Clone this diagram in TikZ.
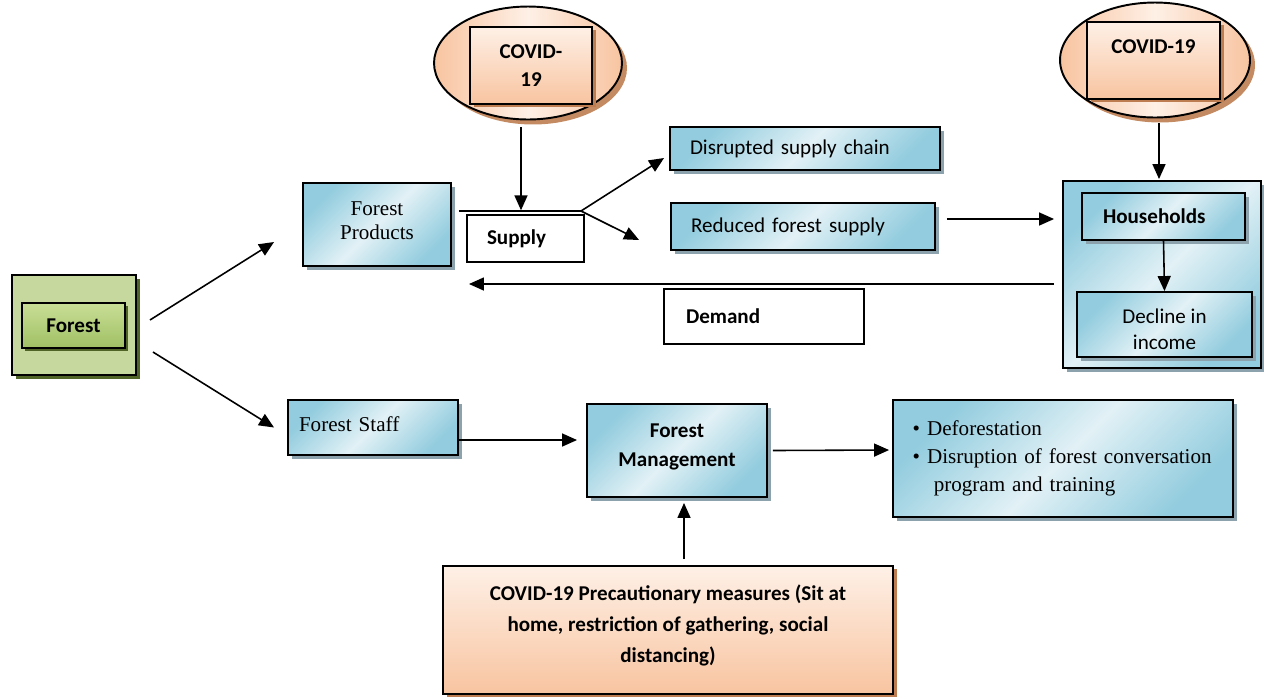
\documentclass[tikz,border=0pt]{standalone}
\usepackage{fontspec}
\setmainfont{Liberation Serif}
\setsansfont{Carlito}
\usetikzlibrary{positioning,calc,shapes.geometric,shadows,arrows.meta}
\definecolor{bluedark}{RGB}{146,204,222}
\definecolor{bluelite}{RGB}{226,241,246}
\definecolor{peachdark}{RGB}{248,196,160}
\definecolor{peachlite}{RGB}{254,240,230}
\definecolor{peachshade}{RGB}{190,125,80}
\definecolor{greenback}{RGB}{198,216,158}
\definecolor{greenlite}{RGB}{200,222,150}
\definecolor{greendark}{RGB}{160,192,100}
\definecolor{greenshade}{RGB}{80,100,40}
\definecolor{blueshade}{RGB}{140,162,172}

\begin{document}
\begin{tikzpicture}[x=0.02cm,y=-0.02cm,
	bluebox/.style={draw,line width=1.1pt,left color=bluedark,right color=bluedark,middle color=bluelite,shading angle=45,drop shadow={shadow xshift=0.08cm,shadow yshift=-0.08cm,fill=blueshade,opacity=1}},
	peachbox/.style={draw,line width=1.1pt,top color=peachlite,bottom color=peachdark,drop shadow={shadow xshift=0.08cm,shadow yshift=-0.06cm,fill=peachshade,opacity=1}},
	peachoval/.style={ellipse,draw,line width=1.1pt,left color=peachdark,right color=peachdark,middle color=peachlite,drop shadow={shadow xshift=0.1cm,shadow yshift=-0.1cm,fill=peachshade,opacity=0.9}},
	plainbox/.style={draw,line width=0.8pt,fill=white},
	sans/.style={font=\sffamily\fontsize{12}{14.7}\selectfont},
	bsans/.style={font=\sffamily\bfseries\fontsize{12}{16.4}\selectfont},
	serif/.style={font=\fontsize{12}{13.6}\selectfont},
	arr/.style={-{Triangle[length=0.3cm,width=0.26cm]},line width=0.9pt}]

	\useasboundingbox (0,0) rectangle (1264,698);

	% forest
	\node[draw,line width=1.1pt,fill=greenback,minimum width=2.48cm,minimum height=2cm,drop shadow={shadow xshift=0.08cm,shadow yshift=-0.08cm,fill=greenshade,opacity=1}]	(forestout)	at (74,325)	{};
	\node[draw,line width=1.1pt,top color=greenlite,bottom color=greendark,minimum width=2.06cm,minimum height=0.9cm,bsans,drop shadow={shadow xshift=0.06cm,shadow yshift=-0.06cm,fill=greenshade,opacity=1}]	(forest)	at (73.5,325.5)	{Forest};

	% covid ovals
	\node[peachoval,minimum width=3.76cm,minimum height=2.26cm]	(cov1)	at (528,63)	{};
	\node[peachbox,minimum width=2.44cm,minimum height=1.54cm,align=center,bsans]	(cov1box)	at (531,65.5)	{COVID-\\19};
	\node[peachoval,minimum width=3.8cm,minimum height=2.3cm]	(cov2)	at (1155,60)	{};
	\node[peachbox,minimum width=2.66cm,minimum height=1.54cm,align=center,bsans]	(cov2box)	at (1153.5,60.5)	{COVID-19\\~};

	% supply side
	\node[bluebox,minimum width=2.96cm,minimum height=1.66cm,align=center,serif]	(prod)	at (377,224.5)	{Forest\\Products\\[-9pt]~};
	\node[plainbox,minimum width=2.34cm,minimum height=0.94cm,text width=1.54cm,inner xsep=0.4cm,align=left,bsans]	(supply)	at (525.5,238.5)	{Supply};
	\node[bluebox,minimum width=5.4cm,minimum height=0.86cm,text width=4.6cm,inner xsep=0.4cm,align=left,sans]	(disr)	at (805,148.5)	{Disrupted supply chain};
	\node[bluebox,minimum width=5.28cm,minimum height=0.94cm,text width=4.48cm,inner xsep=0.4cm,align=left,sans]	(red)	at (803,226.5)	{Reduced forest supply};
	\node[plainbox,minimum width=4cm,minimum height=1.1cm,text width=3.12cm,inner xsep=0.44cm,align=left,bsans]	(demand)	at (764,316.5)	{Demand};

	% households
	\node[bluebox,minimum width=3.96cm,minimum height=3.74cm]	(cont)	at (1162,274.5)	{};
	\node[bluebox,minimum width=3.26cm,minimum height=0.94cm,text width=2.42cm,inner xsep=0.42cm,align=left,bsans]	(hh)	at (1163.5,216.5)	{Households};
	\node[bluebox,minimum width=3.5cm,minimum height=1.3cm,align=center,sans]	(dec)	at (1164.5,324.5)	{\rule{0pt}{14pt}Decline in\\income};

	% management side
	\node[bluebox,minimum width=3.4cm,minimum height=1.1cm,text width=2.96cm,inner xsep=0.22cm,align=left,serif]	(staff)	at (373,427.5)	{Forest Staff\\[-9.5pt]~};
	\node[bluebox,minimum width=3.6cm,minimum height=1.86cm,align=center,bsans]	(mgmt)	at (677,450.5)	{Forest\\Management\\[-10pt]~};
	\node[bluebox,minimum width=6.8cm,minimum height=2.34cm,text width=6.4cm,inner xsep=0.2cm,align=left,font=\fontsize{12}{16}\selectfont]	(effects)	at (1063,458.5)	{\hspace*{5.5pt}\textbullet\hspace{4pt}Deforestation\\\hspace*{5.5pt}\textbullet\hspace{4pt}Disruption of forest conversation\\\hspace*{17.5pt}program and training};
	\node[peachbox,minimum width=9cm,minimum height=2.56cm,align=center,font=\sffamily\bfseries\fontsize{12}{17.6}\selectfont]	(prec)	at (668,630)	{COVID-19 Precautionary measures (Sit at\\home, restriction of gathering, social\\distancing)\\[-10.8pt]~};

	\coordinate	(split)	at (581,211);

	\draw[arr] ($(forestout.east)+(13,-5)$) -- ($(prod.west)+(-28,17.5)$);
	\draw[arr] ($(forestout.east)+(16,27)$) -- ($(staff.west)+(-13,0)$);
	\draw[line width=0.9pt] ($(prod.east)+(7,-13.5)$) -- (split);
	\draw[arr] ($(cov1.south)+(-7,7)$) -- ($(supply.north)+(-4.5,-4)$);
	\draw[arr] (split) -- ($(disr.west)+(-5,9.5)$);
	\draw[arr] (split) -- ($(red.west)+(-31,13.5)$);
	\draw[arr] ($(red.east)+(11,-7.5)$) -- ($(cont.west)+(-8,-55.5)$);
	\draw[arr] ($(cont.west)+(-8,9.5)$) -- ($(prod.east)+(17,59.5)$);
	\draw[arr] ($(cov2.south)+(4,4.5)$) -- ($(cont.north)+(-3,-1)$);
	\draw[arr] (hh.south) -- (dec.north);
	\draw[arr] ($(staff.east)+(0,12.5)$) -- ($(mgmt.west)+(-9,-10.5)$);
	\draw[arr] ($(mgmt.east)+(5,0)$) -- ($(effects.west)+(-3,-8.5)$);
	\draw[arr] ($(prec.north)+(16,-6)$) -- ($(mgmt.south)+(7,5)$);
\end{tikzpicture}
\end{document}
